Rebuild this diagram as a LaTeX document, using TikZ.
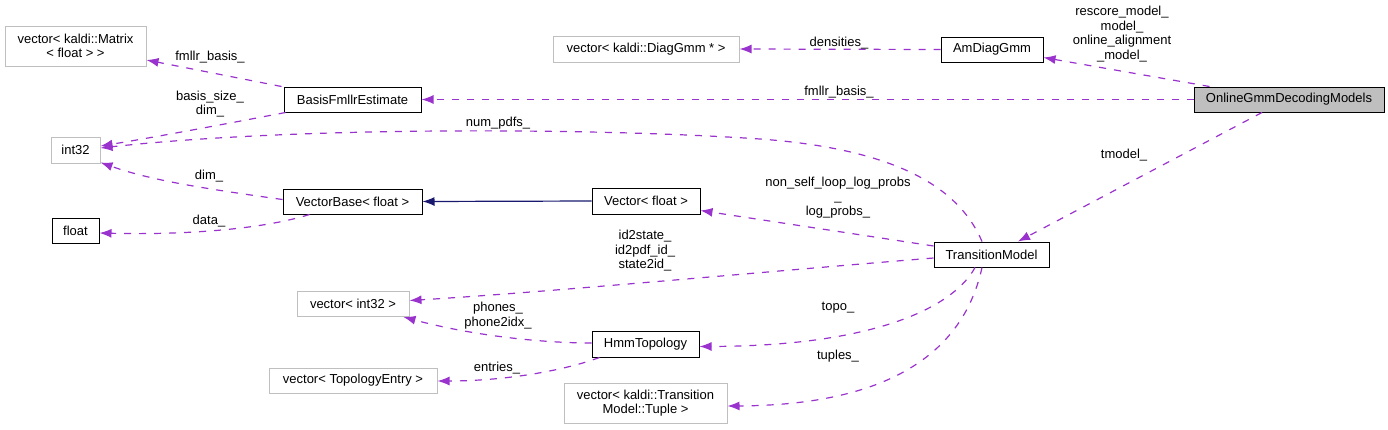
\documentclass[tikz,border=0pt]{standalone}
\usepackage{fontspec}
\setmainfont{Liberation Sans}
\usetikzlibrary{arrows.meta,calc}
\definecolor{edgepurple}{HTML}{9A32CD}
\definecolor{edgenavy}{HTML}{191970}
\definecolor{boxgray}{HTML}{BFBFBF}
\begin{document}
\begin{tikzpicture}[x=1pt,y=-1pt,
  every node/.style={font=\fontsize{13}{14.5}\selectfont, inner sep=0pt},
  cls/.style={draw=black, line width=1pt, fill=white, align=center},
  ext/.style={draw=boxgray, line width=1pt, fill=white, align=center},
  mainbox/.style={draw=black, line width=1pt, fill=boxgray, align=center},
  usage/.style={draw=edgepurple, line width=1.2pt, dash pattern=on 7pt off 8pt, -{Latex[length=12pt,width=9pt]}},
  inherit/.style={draw=edgenavy, line width=1.2pt, -{Latex[length=12pt,width=9pt]}},
  lbl/.style={align=center}]
\useasboundingbox (0,0) rectangle (1388,429);

% nodes
\node[mainbox, minimum width=190pt, minimum height=25pt] (ogdm) at (1289,99.5) {OnlineGmmDecodingModels};
\node[cls, minimum width=102pt, minimum height=25pt] (amdg) at (992,49.5) {AmDiagGmm};
\node[ext, minimum width=186pt, minimum height=26pt] (vdg) at (646,49) {vector< kaldi::DiagGmm * >};
\node[ext, minimum width=141pt, minimum height=40pt] (vmat) at (75.5,46) {vector< kaldi::Matrix\\< float > >};
\node[cls, minimum width=137pt, minimum height=25pt] (bfe) at (352.5,99.5) {BasisFmllrEstimate};
\node[ext, minimum width=49pt, minimum height=26pt] (int) at (75.5,150) {int32};
\node[cls, minimum width=139pt, minimum height=25pt] (vb) at (352.5,201.5) {VectorBase< float >};
\node[cls, minimum width=47pt, minimum height=25pt] (flt) at (75.5,230.5) {float};
\node[cls, minimum width=108pt, minimum height=26pt] (vf) at (646,201) {Vector< float >};
\node[cls, minimum width=115pt, minimum height=25pt] (tm) at (991.5,254.5) {TransitionModel};
\node[ext, minimum width=112pt, minimum height=25pt] (vint) at (353,304) {vector< int32 >};
\node[cls, minimum width=107pt, minimum height=26pt] (hmm) at (645.5,344) {HmmTopology};
\node[ext, minimum width=168pt, minimum height=25pt] (vte) at (353,380.5) {vector< TopologyEntry >};
\node[ext, minimum width=163pt, minimum height=40pt] (vtup) at (645.5,403) {vector< kaldi::Transition\\Model::Tuple >};

% edges
\draw[usage] ($(ogdm.north west)+(16,0)$) -- ($(amdg.south east)+(0,-5)$);
\node[lbl] (l1) at (1122,34) {rescore\_model\_\\model\_\\online\_alignment\\\_model\_};

\draw[usage] (ogdm.west) -- (bfe.east);
\node[lbl] (l2) at (839,92) {fmllr\_basis\_};

\draw[usage] ($(ogdm.south)+(-27,0)$) -- ($(tm.north)+(26.5,0)$);
\node[lbl] (l3) at (1124,155) {tmodel\_};

\draw[usage] (amdg.west) -- (vdg.east);
\node[lbl] (l4) at (839,43) {densities\_};

\draw[usage] ($(bfe.north west)+(-2,0)$) -- ($(vmat.east)+(0,14)$);
\node[lbl] (l5) at (210,57) {fmllr\_basis\_};

\draw[usage] ($(bfe.south west)+(2,0)$) .. controls (220,125) and (150,138) .. ($(int.east)+(0,-4)$);
\node[lbl] (l6) at (210,104) {basis\_size\_\\dim\_};

\draw[usage] ($(tm.north)+(-9.5,0)$) .. controls (962,195) and (910,150) .. (760,139)
  .. controls (600,128) and (300,126) .. ($(int.east)+(0,-2)$);
\node[lbl] (l7) at (498,123) {num\_pdfs\_};

\draw[usage] ($(vb.west)+(0,-2)$) .. controls (200,188) and (150,180) .. ($(int.south east)+(0,-1)$);
\node[lbl] (l8) at (209,176) {dim\_};

\draw[usage] ($(vb.south west)+(27,0)$) .. controls (260,230) and (180,235) .. ($(flt.east)+(0,2.5)$);
\node[lbl] (l9) at (209,221) {data\_};

\draw[inherit] (vf.west) -- (vb.east);

\draw[usage] ($(tm.west)+(0,-8.5)$) -- ($(vf.south east)+(0,-4)$);
\node[lbl] (l10) at (838,197.5) {non\_self\_loop\_log\_probs\\\_\\log\_probs\_};

\draw[usage] ($(tm.west)+(0,3.5)$) .. controls (760,272) and (550,292) .. ($(vint.east)+(0,-3.5)$);
\node[lbl] (l11) at (645,251) {id2state\_\\id2pdf\_id\_\\state2id\_};

\draw[usage] ($(hmm.west)+(0,-1)$) .. controls (540,343) and (470,335) .. ($(vint.south east)+(-6,0)$);
\node[lbl] (l12) at (498,315.5) {phones\_\\phone2idx\_};

\draw[usage] ($(hmm.south west)+(8,0)$) .. controls (560,372) and (500,381) .. ($(vte.east)+(0,0.5)$);
\node[lbl] (l13) at (497,368) {entries\_};

\draw[usage] ($(tm.south)+(-16.5,0)$) .. controls (955,305) and (880,346) .. ($(hmm.east)+(0,2.5)$);
\node[lbl] (l14) at (838,308) {topo\_};

\draw[usage] ($(tm.south)+(-9.5,0)$) .. controls (965,345) and (900,405) .. ($(vtup.east)+(0,3)$);
\node[lbl] (l15) at (838,356) {tuples\_};
\end{tikzpicture}
\end{document}
